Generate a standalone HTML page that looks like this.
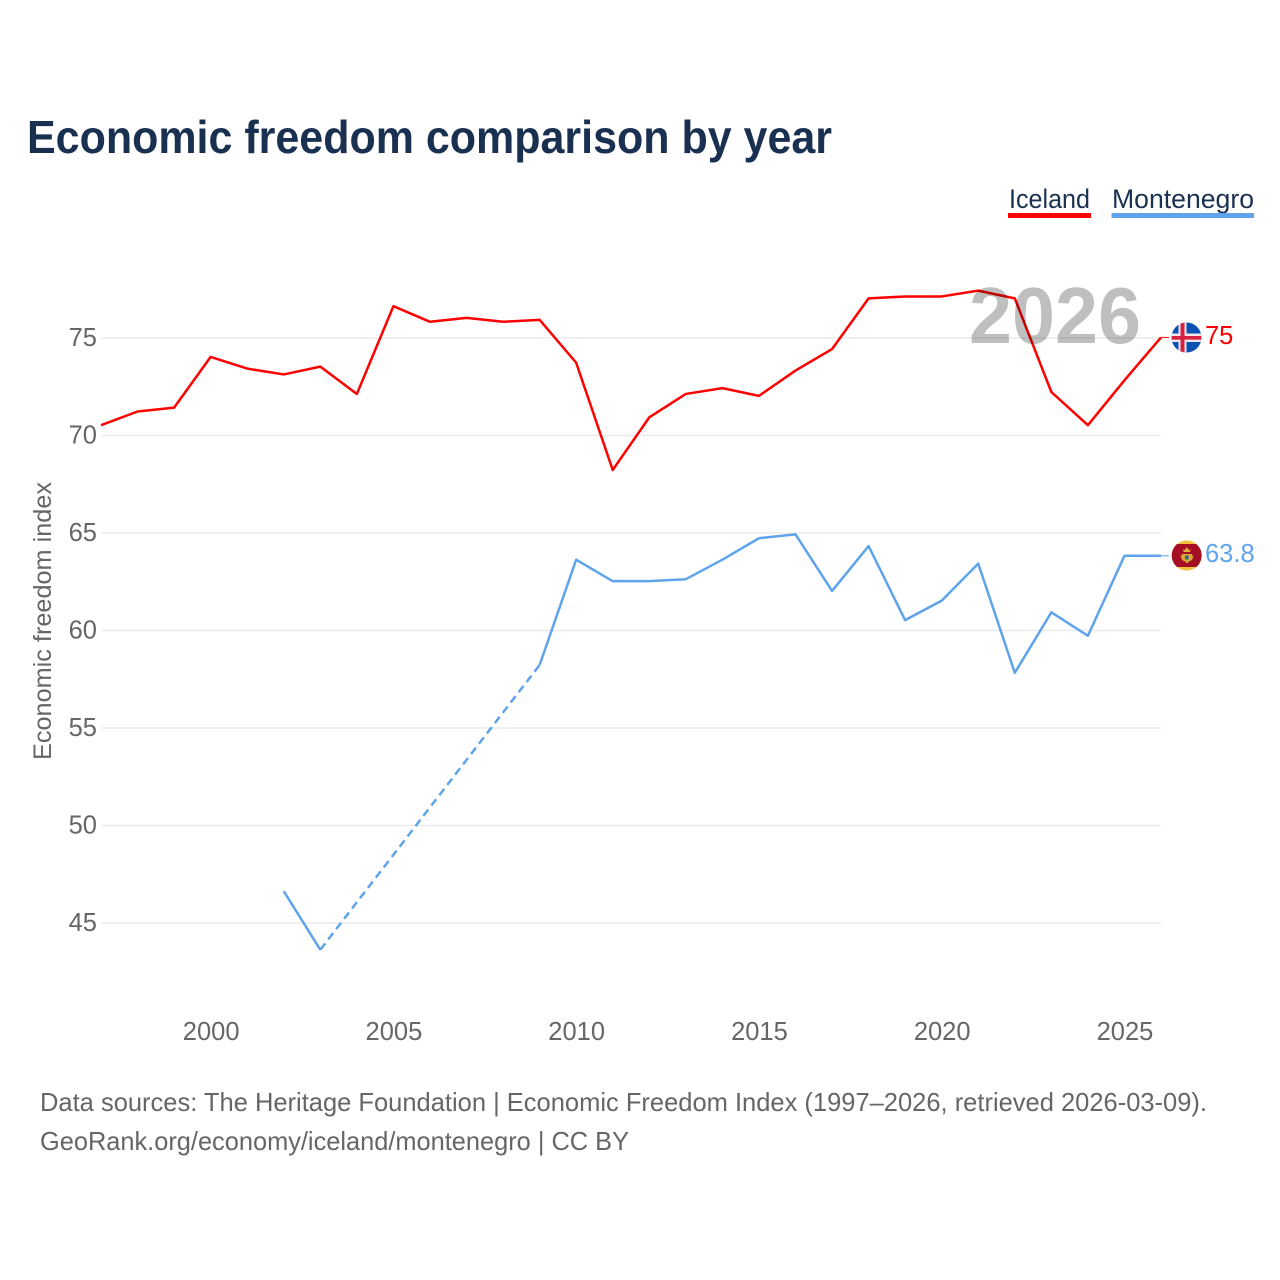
<!DOCTYPE html>
<html lang="en">
<head>
<meta charset="utf-8">
<title>Economic freedom comparison by year</title>
<style>
html,body{margin:0;padding:0;background:#fff;width:1280px;height:1280px;overflow:hidden}
svg{display:block}
text{font-family:"Liberation Sans",sans-serif}
</style>
</head>
<body>
<svg id="chart" width="1280" height="1280" viewBox="0 0 1280 1280" xmlns="http://www.w3.org/2000/svg">
  <defs>
    <clipPath id="clip-iceland"><circle cx="1186.5" cy="337.5" r="15"/></clipPath>
    <clipPath id="clip-montenegro"><circle cx="1186.7" cy="555.5" r="15"/></clipPath>
  </defs>
  <rect width="1280" height="1280" fill="#fff"/>
  <text x="27" y="153" font-size="46" font-weight="700" fill="#1a3050" textLength="805" lengthAdjust="spacingAndGlyphs">Economic freedom comparison by year</text>

  <g>
    <text x="1009" y="208" font-size="27" fill="#1a3050" textLength="81" lengthAdjust="spacingAndGlyphs">Iceland</text>
    <rect x="1008" y="213" width="83" height="5" fill="#ff0000"/>
  </g>
  <g>
    <text x="1112" y="208" font-size="27" fill="#1a3050" textLength="142" lengthAdjust="spacingAndGlyphs">Montenegro</text>
    <rect x="1111.5" y="213" width="142.5" height="5" fill="#5fa4ea"/>
  </g>

  <g id="grid"></g>
  <g id="yticks"></g>
  <g id="xticks"></g>
  <text transform="translate(51,760) rotate(-90)" font-size="25" fill="#666" textLength="278" lengthAdjust="spacingAndGlyphs">Economic freedom index</text>

  <g id="series"></g>

  <text x="969" y="343" font-size="80" font-weight="700" fill="#000" fill-opacity="0.25" textLength="172" lengthAdjust="spacingAndGlyphs">2026</text>

  <g clip-path="url(#clip-iceland)">
    <rect x="1171" y="322" width="31" height="31" fill="#0a52b4"/>
    <rect x="1178.5" y="322" width="8" height="31" fill="#f0e6ea"/>
    <rect x="1171" y="333.5" width="31" height="8.5" fill="#f0e6ea"/>
    <rect x="1180.5" y="322" width="4" height="31" fill="#d72040"/>
    <rect x="1171" y="336" width="31" height="3.6" fill="#d72040"/>
  </g>
  <g clip-path="url(#clip-montenegro)">
    <rect x="1171" y="540" width="31" height="31" fill="#f2c23e"/>
    <rect x="1171" y="544" width="31" height="23" fill="#a50f26"/>
    <path d="M1183 549 l1.6 1.2 l2.2-3 l2.2 3 l1.6-1.2 l-.7 3 h-6.2z" fill="#e2b23a"/>
    <path d="M1182 554 h10 v1.5 h1.5 l-1.5 4.5 l-3 1.5 l-2 2 l-2-2 l-3-1.5 l-1.5-4.5 h1.5z" fill="#d8a93a"/>
    <rect x="1185" y="555.5" width="3.6" height="4" fill="#2f6f7f"/>
  </g>
  <text id="end-label-iceland" x="1205" y="344" font-size="25.5" fill="#ff0000"></text>
  <text id="end-label-montenegro" x="1205" y="562" font-size="25.5" fill="#5fa4ea"></text>

  <text x="40" y="1111" font-size="26" fill="#666" textLength="1167" lengthAdjust="spacingAndGlyphs">Data sources: The Heritage Foundation | Economic Freedom Index (1997–2026, retrieved 2026-03-09).</text>
  <text x="40" y="1150" font-size="26" fill="#666" textLength="589" lengthAdjust="spacingAndGlyphs">GeoRank.org/economy/iceland/montenegro | CC BY</text>
</svg>
<script>
const years = [1997,1998,1999,2000,2001,2002,2003,2004,2005,2006,2007,2008,2009,2010,2011,2012,2013,2014,2015,2016,2017,2018,2019,2020,2021,2022,2023,2024,2025,2026];
const iceland = [70.5,71.2,71.4,74.0,73.4,73.1,73.5,72.1,76.6,75.8,76.0,75.8,75.9,73.7,68.2,70.9,72.1,72.4,72.0,73.3,74.4,77.0,77.1,77.1,77.4,77.0,72.2,70.5,72.8,75.0];
const montenegro = [null,null,null,null,null,46.6,43.6,null,null,null,null,null,58.2,63.6,62.5,62.5,62.6,63.6,64.7,64.9,62.0,64.3,60.5,61.5,63.4,57.8,60.9,59.7,63.8,63.8];
const yTickValues = [45,50,55,60,65,70,75];
const xTickValues = [2000,2005,2010,2015,2020,2025];

const SVGNS = 'http://www.w3.org/2000/svg';
const xScale = function (year) { return 101 + (year - 1997) * (1161 - 101) / (2026 - 1997); };
const yScale = function (value) { return 338 + (75 - value) * 19.5; };
const lineY = function (value) { return yScale(value) - 0.6; };

function svgEl(tag, parent) {
  const el = document.createElementNS(SVGNS, tag);
  parent.appendChild(el);
  return el;
}

const gridGroup = document.getElementById('grid');
const yTickGroup = document.getElementById('yticks');
const xTickGroup = document.getElementById('xticks');
const seriesGroup = document.getElementById('series');

yTickValues.forEach(function (v) {
  const line = svgEl('line', gridGroup);
  
  
  line.setAttribute('x1', 101);
  line.setAttribute('x2', 1161);
  line.setAttribute('y1', yScale(v));
  line.setAttribute('y2', yScale(v));
  line.setAttribute('stroke', '#ebebeb');
  line.setAttribute('stroke-width', 1.5);
  const label = svgEl('text', yTickGroup);
  
  
  label.setAttribute('x', 97);
  label.setAttribute('y', yScale(v) + 8);
  label.setAttribute('text-anchor', 'end');
  label.setAttribute('font-size', 25.5);
  label.setAttribute('fill', '#666');
  label.textContent = v;
});

xTickValues.forEach(function (y) {
  const label = svgEl('text', xTickGroup);
  
  
  label.setAttribute('x', xScale(y) + 0.5);
  label.setAttribute('y', 1040);
  label.setAttribute('text-anchor', 'middle');
  label.setAttribute('font-size', 25.5);
  label.setAttribute('fill', '#666');
  label.textContent = y;
});

function drawSeries(values, color, name) {
  let solid = [];
  let lastPoint = null;
  let gap = false;
  const flush = function () {
    if (solid.length > 1) {
      const path = svgEl('polyline', seriesGroup);
      
      
      path.setAttribute('points', solid.join(' '));
      path.setAttribute('fill', 'none');
      path.setAttribute('stroke', color);
      path.setAttribute('stroke-width', 2.5);
      path.setAttribute('stroke-linejoin', 'round');
    }
    solid = [];
  };
  values.forEach(function (v, i) {
    if (v === null) {
      if (lastPoint) { gap = true; }
      return;
    }
    const point = xScale(years[i]) + ',' + lineY(v);
    if (gap) {
      flush();
      const dash = svgEl('polyline', seriesGroup);
      
      
      dash.setAttribute('points', lastPoint + ' ' + point);
      dash.setAttribute('fill', 'none');
      dash.setAttribute('stroke', color);
      dash.setAttribute('stroke-width', 2.5);
      dash.setAttribute('stroke-dasharray', '8 5');
      gap = false;
    }
    solid.push(point);
    lastPoint = point;
  });
  flush();
  const finalValue = values[values.length - 1];
  const connector = svgEl('line', seriesGroup);
  
  
  connector.setAttribute('x1', 1161);
  connector.setAttribute('x2', 1169);
  connector.setAttribute('y1', lineY(finalValue));
  connector.setAttribute('y2', lineY(finalValue));
  connector.setAttribute('stroke', color);
  connector.setAttribute('stroke-width', 1);
  document.getElementById('end-label-' + name).textContent = finalValue;
}

drawSeries(iceland, '#ff0000', 'iceland');
drawSeries(montenegro, '#5fa4ea', 'montenegro');
</script>
</body>
</html>
